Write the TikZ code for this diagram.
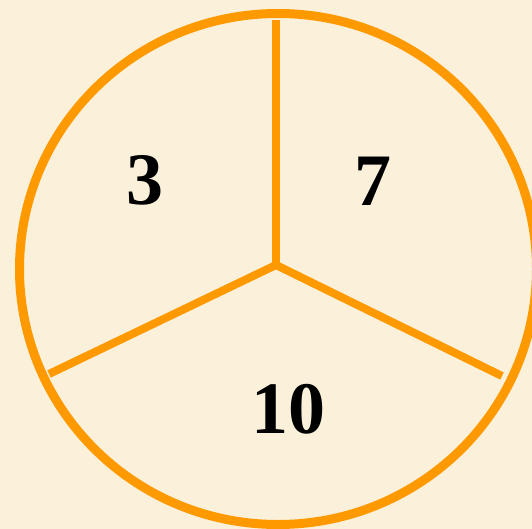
\documentclass[tikz,border=0pt]{standalone}
\usepackage{fontspec}
\setmainfont{Liberation Serif}
\definecolor{bgcream}{HTML}{FBF1DA}
\definecolor{ringorange}{HTML}{FF9900}
\tikzset{
  ring/.style={draw=ringorange, line width=9pt},
  spoke/.style={draw=ringorange, line width=8pt},
  numlabel/.style={anchor=base, inner sep=0pt, font=\fontsize{74}{74}\selectfont\bfseries}
}
\begin{document}
\begin{tikzpicture}[x=1pt,y=-1pt]
\useasboundingbox (0,0) rectangle (532,529);
\clip (0,0) rectangle (532,529);
\fill[bgcream] (0,0) rectangle (532,529);
\coordinate (c) at (276,265);
\coordinate (top) at (276,20);
\coordinate (left) at (49,374);
\coordinate (right) at (502,376);
\draw[ring] (278,269) ellipse [x radius=258.5, y radius=255.5];
\draw[spoke] (c) -- (top);
\draw[spoke] (c) -- (left);
\draw[spoke] (c) -- (right);
\node[numlabel] (n3) at (145,205) {3};
\node[numlabel] (n7) at (373,206) {7};
\node[numlabel] (n10) at (288,433) {10};
\end{tikzpicture}
\end{document}
